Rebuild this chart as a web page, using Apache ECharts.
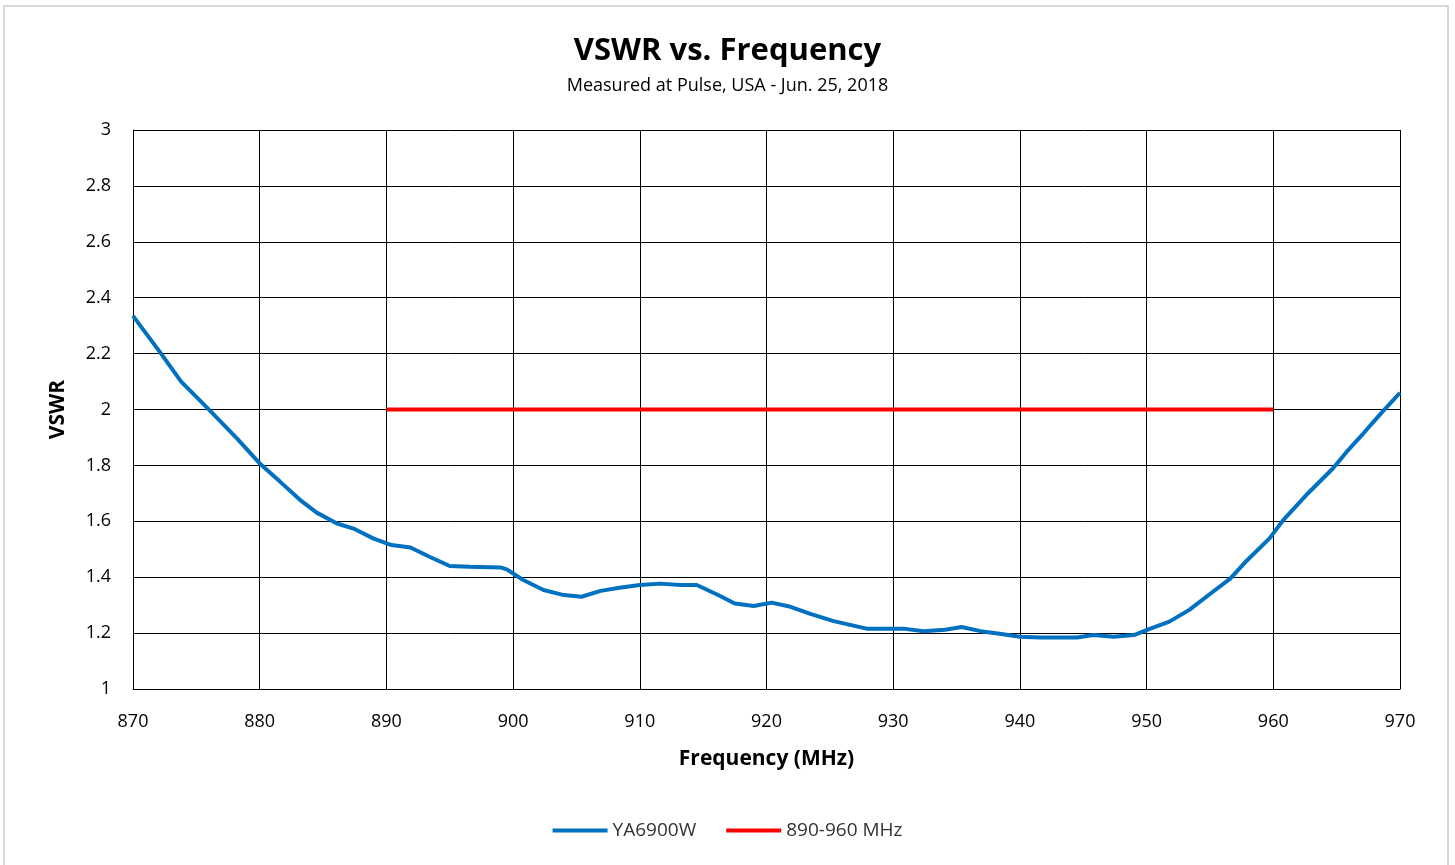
<!DOCTYPE html>
<html>
<head>
<meta charset="utf-8">
<title>VSWR vs. Frequency</title>
<script src="https://cdn.jsdelivr.net/npm/echarts@6/dist/echarts.min.js"></script>
<style>
    html, body { margin: 0; padding: 0; background: #fff; }
    #frame {
        position: absolute; left: 3px; top: 5px; width: 1446px; height: 860px;
        border: 2px solid #d9d9d9; border-bottom: none; box-sizing: border-box;
    }
    #main { position: absolute; left: 0; top: 0; width: 1455px; height: 865px; }
</style>
</head>
<body>
<div id="frame"></div>
<div id="main"></div>
<script type="text/javascript">
    // measured curve
    var freqs = [870, 872.1, 873.8, 875.9, 878.2, 880.0, 881.6, 883.2, 884.5, 886.1, 887.4, 889.0,
        890.4, 891.9, 893.4, 895.0, 896.6, 899.0, 899.5, 900.8, 902.4, 904.0, 905.4, 906.9,
        908.4, 910.0, 911.6, 913.2, 914.5, 916.1, 917.5, 919.0, 920.4, 921.9, 923.4, 925.3,
        927.9, 930.8, 932.4, 934.1, 935.4, 936.9, 938.4, 940.0, 941.6, 944.5, 945.8, 947.4,
        949.0, 950.3, 951.8, 953.4, 955.0, 956.6, 957.9, 959.7, 960.8, 962.6, 964.7, 965.8,
        967.1, 968.5, 970.0];
    var vswr = [2.335, 2.207, 2.10, 2.004, 1.897, 1.807, 1.742, 1.676, 1.631, 1.592, 1.574, 1.538,
        1.515, 1.506, 1.473, 1.44, 1.437, 1.435, 1.428, 1.39, 1.354, 1.336, 1.33, 1.351,
        1.362, 1.372, 1.377, 1.372, 1.372, 1.338, 1.306, 1.297, 1.309, 1.294, 1.27, 1.243,
        1.216, 1.216, 1.207, 1.212, 1.222, 1.207, 1.198, 1.187, 1.184, 1.184, 1.193, 1.187,
        1.193, 1.216, 1.241, 1.284, 1.34, 1.395, 1.459, 1.539, 1.605, 1.694, 1.789, 1.849,
        1.914, 1.986, 2.06];
    // spec limit band
    var limitFreqs = [890, 960];
    var limitVswr = [2, 2];
    var xTicks = [870, 880, 890, 900, 910, 920, 930, 940, 950, 960, 970];
    var yTicks = [1, 1.2, 1.4, 1.6, 1.8, 2, 2.2, 2.4, 2.6, 2.8, 3];

    function pairs(xs, ys) {
        return xs.map(function (x, i) { return [x, ys[i]]; });
    }

    var font = '"Open Sans", "Liberation Sans", sans-serif';
    var myChart = echarts.init(document.getElementById('main'));

    myChart.setOption({
        animation: false,
        textStyle: { fontFamily: font },
        title: {
            text: 'VSWR vs. Frequency',
            subtext: 'Measured at Pulse, USA - Jun. 25, 2018',
            left: 'center',
            top: 31,
            itemGap: 10,
            textStyle: { fontSize: 31, fontWeight: 'bold', color: '#000', fontFamily: font },
            subtextStyle: { fontSize: 18, color: '#000', fontFamily: font }
        },
        legend: {
            bottom: 20,
            left: 'center',
            itemWidth: 55,
            itemHeight: 4,
            itemGap: 30,
            icon: 'rect',
            textStyle: { fontSize: 19, color: '#333', fontFamily: font },
            data: ['YA6900W', '890-960 MHz']
        },
        grid: { left: 133, right: 55, top: 130, bottom: 176 },
        xAxis: {
            type: 'value',
            min: xTicks[0],
            max: xTicks[xTicks.length - 1],
            interval: 10,
            name: 'Frequency (MHz)',
            nameLocation: 'middle',
            nameGap: 60,
            nameTextStyle: { fontSize: 21, fontWeight: 'bold', color: '#000', fontFamily: font },
            axisLine: { lineStyle: { color: '#000', width: 1 } },
            axisTick: { show: false },
            axisLabel: { fontSize: 18, color: '#000', margin: 24 },
            splitLine: { lineStyle: { color: '#000', width: 1 } }
        },
        yAxis: {
            type: 'value',
            min: yTicks[0],
            max: yTicks[yTicks.length - 1],
            interval: 0.2,
            name: 'VSWR',
            nameLocation: 'middle',
            nameGap: 64,
            nameTextStyle: { fontSize: 21, fontWeight: 'bold', color: '#000', fontFamily: font },
            axisLine: { show: true, lineStyle: { color: '#000', width: 1 } },
            axisTick: { show: false },
            axisLabel: { fontSize: 18, color: '#000', margin: 22,
                formatter: function (v) { return String(Math.round(v * 10) / 10); } },
            splitLine: { lineStyle: { color: '#000', width: 1 } }
        },
        series: [
            {
                name: 'YA6900W',
                type: 'line',
                showSymbol: false,
                symbol: 'none',
                lineStyle: { color: '#0070C0', width: 4 },
                itemStyle: { color: '#0070C0' },
                data: pairs(freqs, vswr),
                z: 3
            },
            {
                name: '890-960 MHz',
                type: 'line',
                showSymbol: false,
                symbol: 'none',
                lineStyle: { color: '#FF0000', width: 4 },
                itemStyle: { color: '#FF0000' },
                data: pairs(limitFreqs, limitVswr),
                z: 2
            }
        ]
    });
</script>
</body>
</html>
